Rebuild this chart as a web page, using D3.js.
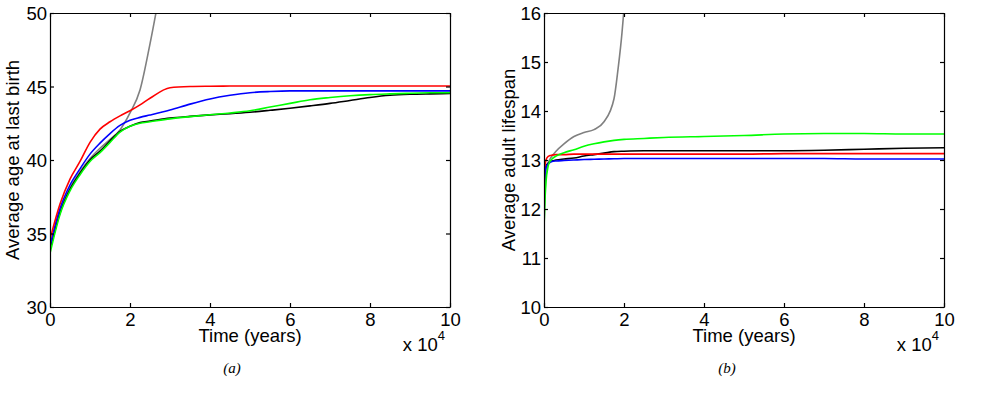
<!DOCTYPE html>
<html>
<head>
<meta charset="utf-8">
<script src="https://cdn.jsdelivr.net/npm/d3@7"></script>
<style>
  body { margin: 0; background: #fff; }
  svg text { font-family: "Liberation Sans", Arial, sans-serif; fill: #000; }
  .tick line, .domain { stroke: #000; stroke-width: 1.2; }
  .caption { font-family: "Liberation Serif", serif; font-style: italic; font-size: 15px; }
</style>
</head>
<body>
<svg id="chart" width="982" height="401"></svg>
<script>
// time in units of 10^4 years
const xsA = [0, 0.25, 0.5, 0.75, 1, 1.25, 1.5, 1.75, 2, 2.25, 2.5, 3, 3.5, 4, 4.5, 5, 5.5, 6, 6.5, 7, 7.5, 8, 8.5, 9, 9.5, 10];
const redA   = [34.6, 37.0, 38.7, 39.9, 41.2, 42.1, 42.6, 43.0, 43.35, 43.75, 44.2, 44.92, 45.0, 45.02, 45.03, 45.03, 45.03, 45.03, 45.03, 45.03, 45.03, 45.03, 45.03, 45.03, 45.03, 45.03];
const blueA  = [34.2, 36.7, 38.3, 39.4, 40.4, 41.15, 41.8, 42.35, 42.7, 42.9, 43.06, 43.4, 43.8, 44.15, 44.4, 44.58, 44.66, 44.7, 44.7, 44.7, 44.7, 44.7, 44.7, 44.7, 44.7, 44.7];
const greenA = [33.65, 36.3, 37.9, 39.0, 39.9, 40.5, 41.2, 41.9, 42.3, 42.5, 42.6, 42.8, 42.95, 43.08, 43.2, 43.35, 43.6, 43.85, 44.1, 44.25, 44.37, 44.45, 44.5, 44.54, 44.57, 44.58];
const blackA = [33.9, 36.4, 38.0, 39.1, 40.0, 40.6, 41.3, 41.95, 42.3, 42.55, 42.65, 42.85, 42.97, 43.07, 43.15, 43.25, 43.38, 43.52, 43.68, 43.85, 44.05, 44.25, 44.4, 44.47, 44.5, 44.52];
const grayXsA = [0, 0.25, 0.5, 0.75, 1, 1.25, 1.5, 1.75, 2, 2.25, 2.5, 2.75];
const grayA   = [33.9, 36.5, 38.1, 39.2, 40.1, 40.8, 41.4, 42.05, 43.2, 44.76, 47.9, 51.5];

const xsB = [0, 0.02, 0.05, 0.1, 0.15, 0.2, 0.3, 0.5, 0.75, 1, 1.25, 1.5, 1.75, 2, 2.5, 3, 4, 5, 6, 7, 8, 9, 10];
const redB   = [12.6, 12.85, 13.0, 13.07, 13.09, 13.1, 13.11, 13.11, 13.12, 13.12, 13.12, 13.12, 13.12, 13.12, 13.12, 13.12, 13.12, 13.12, 13.13, 13.13, 13.13, 13.13, 13.13];
const blueB  = [12.3, 12.7, 12.85, 12.92, 12.95, 12.97, 12.98, 12.99, 13.0, 13.01, 13.015, 13.02, 13.025, 13.03, 13.03, 13.03, 13.03, 13.03, 13.03, 13.03, 13.02, 13.02, 13.02];
const blackB = [12.4, 12.75, 12.88, 12.93, 12.96, 12.98, 13.0, 13.02, 13.04, 13.08, 13.11, 13.14, 13.17, 13.18, 13.19, 13.19, 13.19, 13.19, 13.19, 13.2, 13.22, 13.24, 13.25];
const greenB = [11.6, 12.1, 12.55, 12.86, 12.97, 13.02, 13.08, 13.15, 13.21, 13.28, 13.33, 13.37, 13.4, 13.42, 13.44, 13.46, 13.48, 13.5, 13.53, 13.54, 13.54, 13.53, 13.53];
const grayXsB = [0, 0.02, 0.05, 0.1, 0.15, 0.2, 0.3, 0.5, 0.75, 1, 1.25, 1.5, 1.75, 1.85, 1.95, 2.0, 2.05];
const grayB   = [11.6, 12.2, 12.7, 12.93, 13.02, 13.08, 13.18, 13.33, 13.48, 13.56, 13.62, 13.78, 14.25, 14.85, 15.6, 16.1, 16.8];

const xTicks = [0, 2, 4, 6, 8, 10];
const yTicksA = [30, 35, 40, 45, 50];
const yTicksB = [10, 11, 12, 13, 14, 15, 16];

const svg = d3.select('#chart');

function panel(opts) {
  const { left, right, top, bottom, yDomain, yTicks, ylabel, caption, series, id } = opts;
  const x = d3.scaleLinear().domain([0, 10]).range([left, right]);
  const y = d3.scaleLinear().domain(yDomain).range([bottom, top]);
  const g = svg.append('g');

  g.append('clipPath').attr('id', id).append('rect')
    .attr('x', left).attr('y', top).attr('width', right - left).attr('height', bottom - top);

  const line = d3.line().curve(d3.curveMonotoneX).x((d) => x(d[0])).y((d) => y(d[1]));
  const lines = g.append('g').attr('clip-path', `url(#${id})`);
  series.forEach((s) => {
    lines.append('path')
      .attr('d', line(s.xs.map((v, i) => [v, s.ys[i]])))
      .attr('fill', 'none')
      .attr('stroke', s.color)
      .attr('stroke-width', 1.6);
  });

  const fontSize = '18.5px';
  const fmt = d3.format('d');
  const bx = g.append('g').attr('transform', `translate(0,${bottom})`)
    .call(d3.axisBottom(x).tickValues(xTicks).tickFormat(fmt).tickSizeInner(-4).tickSizeOuter(0).tickPadding(6));
  bx.selectAll('text').style('font-size', fontSize);
  g.append('g').attr('transform', `translate(0,${top})`)
    .call(d3.axisTop(x).tickValues(xTicks).tickSizeInner(-4).tickSizeOuter(0).tickFormat(''));
  const ly = g.append('g').attr('transform', `translate(${left},0)`)
    .call(d3.axisLeft(y).tickValues(yTicks).tickFormat(fmt).tickSizeInner(-4).tickSizeOuter(0).tickPadding(3));
  ly.selectAll('text').style('font-size', fontSize).attr('dy', '0.36em');
  g.append('g').attr('transform', `translate(${right},0)`)
    .call(d3.axisRight(y).tickValues(yTicks).tickSizeInner(-4).tickSizeOuter(0).tickFormat(''));
  g.selectAll('.domain').attr('stroke', '#000');
  g.selectAll('.tick line').attr('stroke', '#000');
  g.selectAll('text').attr('font-family', null);

  g.append('text')
    .attr('x', (left + right) / 2).attr('y', bottom + 35)
    .attr('text-anchor', 'middle').style('font-size', fontSize)
    .text('Time (years)');

  const mult = g.append('text')
    .attr('x', right - 5).attr('y', bottom + 44)
    .attr('text-anchor', 'end').style('font-size', fontSize);
  mult.append('tspan').text('x 10');
  mult.append('tspan').attr('dy', -11).style('font-size', '13px').text('4');

  g.append('text')
    .attr('transform', `translate(${opts.ylabelX},${(top + bottom) / 2}) rotate(-90)`)
    .attr('text-anchor', 'middle').style('font-size', fontSize)
    .text(ylabel);

  g.append('text').attr('class', 'caption')
    .attr('x', opts.captionX).attr('y', 373)
    .attr('text-anchor', 'middle')
    .text(caption);
}

panel({
  id: 'clipA', left: 50, right: 450, top: 13, bottom: 307,
  yDomain: [30, 50], yTicks: yTicksA,
  ylabel: 'Average age at last birth', ylabelX: 19, caption: '(a)', captionX: 232,
  series: [
    { xs: grayXsA, ys: grayA, color: '#808080' },
    { xs: xsA, ys: blackA, color: '#000000' },
    { xs: xsA, ys: greenA, color: '#00ff00' },
    { xs: xsA, ys: blueA, color: '#0000ff' },
    { xs: xsA, ys: redA, color: '#ff0000' }
  ]
});

panel({
  id: 'clipB', left: 544, right: 944, top: 13, bottom: 307,
  yDomain: [10, 16], yTicks: yTicksB,
  ylabel: 'Average adult lifespan', ylabelX: 515, caption: '(b)', captionX: 727,
  series: [
    { xs: grayXsB, ys: grayB, color: '#808080' },
    { xs: xsB, ys: blackB, color: '#000000' },
    { xs: xsB, ys: redB, color: '#ff0000' },
    { xs: xsB, ys: blueB, color: '#0000ff' },
    { xs: xsB, ys: greenB, color: '#00ff00' }
  ]
});
</script>
</body>
</html>
